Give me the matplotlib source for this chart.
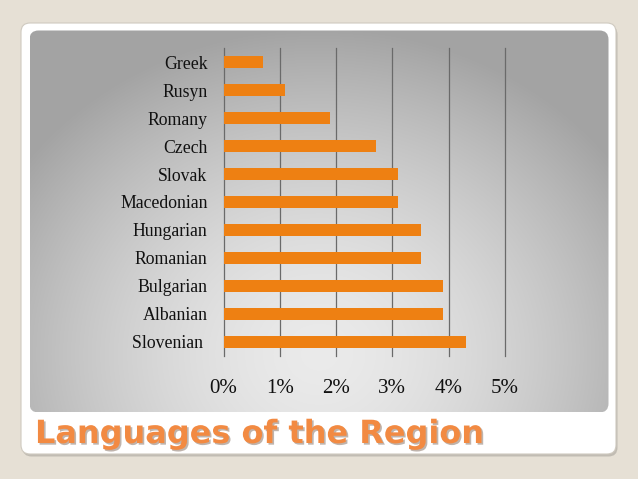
import numpy as np
import matplotlib
matplotlib.use("Agg")
import matplotlib.pyplot as plt
from matplotlib.patches import FancyBboxPatch
from matplotlib.ticker import PercentFormatter
import matplotlib.patheffects as pe

# ---- data ----
languages = ["Slovenian ", "Albanian", "Bulgarian", "Romanian", "Hungarian",
             "Macedonian", "Slovak", "Czech", "Romany", "Rusyn", "Greek"]
shares = [0.043, 0.039, 0.039, 0.035, 0.035, 0.031, 0.031, 0.027, 0.019, 0.011, 0.007]
x_ticks = [0.0, 0.01, 0.02, 0.03, 0.04, 0.05]
title = "Languages of the Region"

W, H = 638, 479
fig = plt.figure(figsize=(W / 100, H / 100), dpi=100)
fig.patch.set_facecolor("#e6e0d5")

# ---- slide decoration (pixel coordinates) ----
bg = fig.add_axes([0, 0, 1, 1])
bg.set_xlim(0, W)
bg.set_ylim(H, 0)
bg.axis("off")

shadow = FancyBboxPatch((22.5, 25.5), 595, 431, boxstyle="round,pad=0,rounding_size=9",
                        fc="#a9a59d", ec="none", alpha=0.6)
bg.add_patch(shadow)
frame = FancyBboxPatch((21, 23), 595, 431, boxstyle="round,pad=0,rounding_size=9",
                       fc="white", ec="#cfcac0", lw=0.8)
bg.add_patch(frame)

px0, py0, pw, ph = 29.5, 30.5, 579, 382
panel = FancyBboxPatch((px0, py0), pw, ph, boxstyle="round,pad=0,rounding_size=9",
                       fc="none", ec="none")
bg.add_patch(panel)
gx = np.linspace(-1, 1, 400)
gy = np.linspace(-1, 1, 300)
GX, GY = np.meshgrid(gx, gy)
r = np.sqrt((GX * 0.95) ** 2 + ((GY - 0.7) * 0.7) ** 2)
r = np.clip(r / 1.2, 0, 1)
light, dark = 0.92, 0.64
val = light - (light - dark) * r ** 1.6
img = np.dstack([val, val, val])
im = bg.imshow(img, extent=(px0, px0 + pw, py0 + ph, py0), origin="upper",
               aspect="auto", interpolation="bilinear", zorder=1)
im.set_clip_path(panel)
bg.set_xlim(0, W)
bg.set_ylim(H, 0)

# ---- chart ----
ax = fig.add_axes([223.5 / W, 1 - 355.7 / H, (505 - 223.5) / W, (355.7 - 48.3) / H])
ax.patch.set_alpha(0)
y = np.arange(len(languages))
ax.barh(y, shares, height=0.42, color="#ee8012", zorder=3)
ax.set_ylim(-0.5, len(languages) - 0.5)
ax.set_xlim(0, 0.05)
ax.set_yticks(y)
ax.set_yticklabels(languages)
ax.set_xticks(x_ticks)
ax.xaxis.set_major_formatter(PercentFormatter(xmax=1, decimals=0))
ax.grid(axis="x", color="#6a6a6a", lw=0.9, zorder=1)
for gl in ax.get_xgridlines():
    gl.set_clip_on(False)
for s in ax.spines.values():
    s.set_visible(False)
ax.tick_params(axis="both", length=0, colors="#111111")
ax.tick_params(axis="y", pad=11.5, labelsize=12.8)
ax.tick_params(axis="x", pad=17, labelsize=15)
for lab in ax.get_xticklabels() + ax.get_yticklabels():
    lab.set_fontfamily("Liberation Serif")

# ---- title ----
fig.text(35 / W, 1 - 443 / H, title, fontsize=23, fontweight="bold",
         family="DejaVu Sans", color="#f28a42", va="baseline", ha="left",
         path_effects=[pe.SimplePatchShadow(offset=(1.2, -1.2), alpha=0.35), pe.Normal()])

fig.savefig("out.png", dpi=100, facecolor=fig.get_facecolor())
